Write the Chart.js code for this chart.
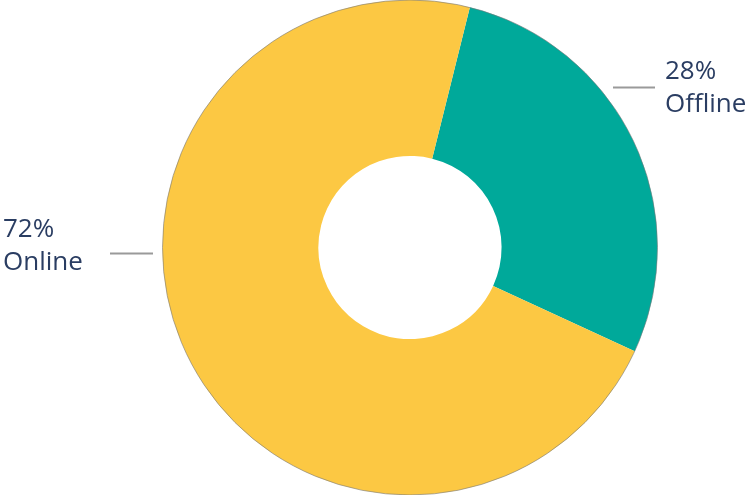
<!DOCTYPE html>
<html>
<head>
<meta charset="utf-8">
<script src="https://cdn.jsdelivr.net/npm/chart.js@4.4.1/dist/chart.umd.min.js"></script>
<style>
  html, body { margin: 0; padding: 0; background: #fff; }
  #wrap { width: 748px; height: 495px; position: relative; }
</style>
</head>
<body>
<div id="wrap"><canvas id="graficoCanal"></canvas></div>
<script>
const canais = ['Offline', 'Online'];
const percentuais = [28, 72];
const cores = ['#00A99A', '#FCC843'];

// rótulos com linha guia: deslocamentos a partir do centro do anel
const posRotulos = [
  { linha: [203, 245, -160], texto: [255, -169] },
  { linha: [-300, -257, 6], texto: [-407, -11] }
];

const rotulosExternos = {
  id: 'rotulosExternos',
  afterDatasetsDraw(chart) {
    const ctx = chart.ctx;
    const meta = chart.getDatasetMeta(0);
    const arco = meta.data[0];
    const cx = arco.x, cy = arco.y, r = arco.outerRadius;

    // contorno fino cinza na borda externa
    ctx.save();
    ctx.beginPath();
    ctx.arc(cx, cy, r, 0, Math.PI * 2);
    ctx.strokeStyle = 'rgba(120,120,120,0.6)';
    ctx.lineWidth = 1;
    ctx.stroke();

    ctx.font = '26px "Open Sans", sans-serif';
    ctx.fillStyle = '#2A3D62';
    ctx.textBaseline = 'alphabetic';
    ctx.textAlign = 'left';
    canais.forEach((nome, i) => {
      const p = posRotulos[i];
      ctx.beginPath();
      ctx.moveTo(cx + p.linha[0], cy + p.linha[2]);
      ctx.lineTo(cx + p.linha[1], cy + p.linha[2]);
      ctx.strokeStyle = '#9a9a9a';
      ctx.lineWidth = 2;
      ctx.stroke();
      ctx.fillText(percentuais[i] + '%', cx + p.texto[0], cy + p.texto[1]);
      ctx.fillText(nome, cx + p.texto[0], cy + p.texto[1] + 33);
    });
    ctx.restore();
  }
};

const graficoCanal = new Chart(document.getElementById('graficoCanal'), {
  type: 'doughnut',
  data: {
    labels: canais,
    datasets: [{
      data: percentuais,
      backgroundColor: cores,
      borderWidth: 0,
      hoverOffset: 0
    }]
  },
  options: {
    responsive: true,
    maintainAspectRatio: false,
    animation: false,
    rotation: 14,
    cutout: '37%',
    layout: { padding: { left: 124, right: 52, top: 0, bottom: 0 } },
    plugins: {
      legend: { display: false },
      tooltip: { enabled: false }
    }
  },
  plugins: [rotulosExternos]
});
</script>
</body>
</html>
